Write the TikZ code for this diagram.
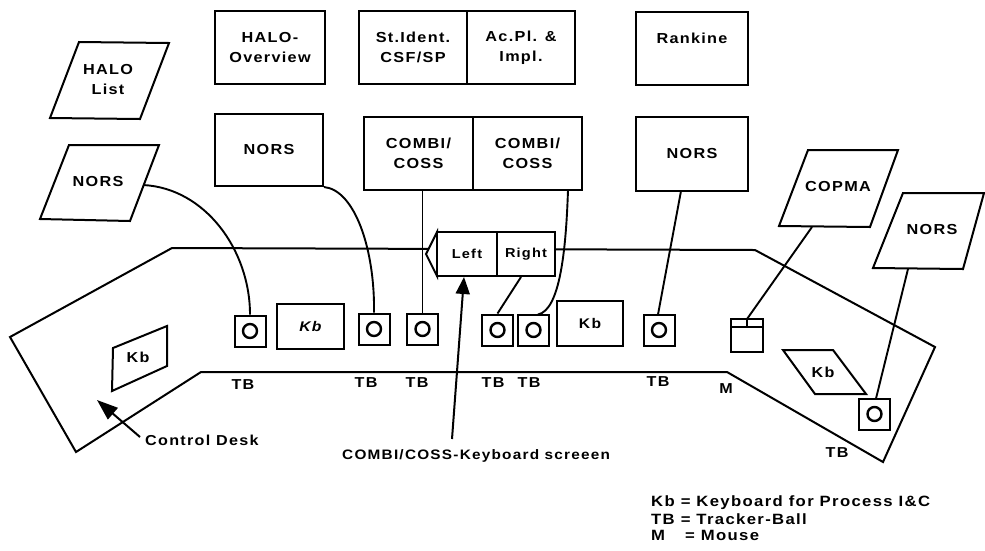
\documentclass[tikz,border=0pt]{standalone}
\usepackage{fontspec}
\setmainfont{Liberation Sans}[BoldFont={Liberation Sans Bold},LetterSpace=9,FakeStretch=1.12]
\usetikzlibrary{arrows.meta}
\tikzset{
  x=1pt,y=-1pt,
  ln/.style={line width=2pt,line join=miter},
  wire/.style={line width=1.9pt},
  boxn/.style={draw,line width=2pt,rectangle,inner sep=0pt,align=center,font=\fontsize{14.5}{20}\selectfont\bfseries},
  tball/.style={draw,line width=2pt,rectangle,inner sep=0pt,minimum width=31pt,minimum height=31pt,
    path picture={\draw[line width=2.4pt] (path picture bounding box.center) circle (7pt);}},
  lbl/.style={inner sep=0pt,align=center,font=\fontsize{14.5}{20}\selectfont\bfseries},
  small/.style={inner sep=0pt,font=\fontsize{14.4}{16}\selectfont\bfseries},
  ptr/.style={line width=2pt,-{Triangle[length=17pt,width=14pt]}},
  ptrb/.style={line width=2pt,-{Triangle[length=21pt,width=15pt]}}
}
\begin{document}
\begin{tikzpicture}
\useasboundingbox (0,0) rectangle (985,550);
% desk
\draw[ln] (10,337) -- (172,248) -- (755,250) -- (935,347) -- (883,462) -- (727,372) -- (201,372) -- (76,452) -- cycle;
% left parallelograms
\draw[ln] (79,42) -- (169,43) -- (140,119) -- (50,118) -- cycle;
\node[lbl] (halolist) at (108,80) {HALO\\List};
\draw[ln] (69,145) -- (159,145) -- (130,221) -- (40,219) -- cycle;
\node[lbl] (norsL) at (98,182) {NORS};
\coordinate (norsLout) at (143,185);
% top boxes
\node[boxn,minimum width=110pt,minimum height=73pt] (halo) at (270,47.5) {HALO-\\Overview};
\node[boxn,minimum width=108pt,minimum height=72pt] (norsA) at (269,150) {NORS};
\node[boxn,minimum width=108pt,minimum height=73pt] (stid) at (413,47.5) {St.Ident.\\CSF/SP};
\node[boxn,minimum width=108pt,minimum height=73pt] (acpl) at (521,47.5) {Ac.Pl. \&\\Impl.};
\node[boxn,minimum width=109pt,minimum height=73pt] (combiA) at (418.5,153.5) {COMBI/\\COSS};
\node[boxn,minimum width=109pt,minimum height=73pt] (combiB) at (527.5,153.5) {COMBI/\\COSS};
\node[boxn,minimum width=112pt,minimum height=73pt] (rank) at (692,48.5) {};
\node[lbl] (ranktxt) at (692,38) {Rankine};
\node[boxn,minimum width=112pt,minimum height=74pt] (norsB) at (692,154) {NORS};
% right parallelograms
\draw[ln] (808,150) -- (898,150) -- (870,227) -- (779,226) -- cycle;
\node[lbl] (copma) at (838,187) {COPMA};
\coordinate (copmaout) at (812,227);
\draw[ln,fill=white] (903,193) -- (984,193) -- (963,269) -- (873,268) -- cycle;
\node[lbl] (norsR) at (932,230) {NORS};
\coordinate (norsRout) at (908,269);
% screens
\draw[ln,fill=white] (437,232) -- (426,254) -- (437,276) -- cycle;
\node[boxn,fill=white,minimum width=60pt,minimum height=44pt,font=\fontsize{13}{14}\selectfont\bfseries] (left) at (467,254) {Left};
\node[boxn,fill=white,minimum width=58pt,minimum height=44pt,font=\fontsize{13}{14}\selectfont\bfseries] (right) at (526,254) {Right};
% trackballs
\node[tball] (t1) at (250,331) {};
\node[tball] (t2) at (374,329) {};
\node[tball] (t3) at (422.5,329) {};
\node[tball] (t4) at (497.5,330) {};
\node[tball] (t5) at (533.5,330) {};
\node[tball] (t6) at (659,330) {};
\node[tball] (t7) at (874.5,414) {};
% keyboards
\node[boxn,minimum width=67pt,minimum height=45pt,font=\fontsize{14}{16}\selectfont\bfseries\itshape] (kb1) at (310.5,326.5) {Kb};
\node[boxn,minimum width=66pt,minimum height=45pt,font=\fontsize{14}{16}\selectfont\bfseries] (kb2) at (590,323.5) {Kb};
\draw[ln] (113,348) -- (167,326) -- (167,366) -- (112,391) -- cycle;
\node[small] (kb3) at (138,357) {Kb};
\draw[ln] (783,350) -- (833,350) -- (866,394) -- (815,394) -- cycle;
\node[small] (kb4) at (823,372) {Kb};
% mouse
\node[draw,line width=2pt,inner sep=0pt,minimum width=32pt,minimum height=33pt] (mouse) at (747,335.5) {};
\coordinate (mtop) at (747,319);
\draw[ln] (731,327) -- (763,327);
\draw[ln] (747,319) -- (747,327);
% wires
\draw[wire] (norsLout) .. controls (205,188) and (250,250) .. (t1.north);
\draw[wire] (norsA.south east) .. controls (355,190) and (375,250) .. (t2.north);
\draw[wire] (t3.north) -- (422.5,190);
\draw[wire] (right.south -| 521,0) -- (t4.north);
\draw[wire] (568,190) .. controls (566,250) and (560,310) .. (538,314.5);
\draw[wire] (681,191) -- (658,314.5);
\draw[wire] (copmaout) -- (mtop);
\draw[wire] (norsRout) -- (876,398.5);
% pointer arrows
\coordinate (ctlfrom) at (140,437);
\coordinate (ctlto) at (97,400);
\coordinate (scrfrom) at (452,439);
\draw[ptrb] (ctlfrom) -- (ctlto);
\draw[ptr] (scrfrom) -- (464,277);
% labels
\node[small] (tbl1) at (243,385) {TB};
\node[small] (tbl2) at (366,383) {TB};
\node[small] (tbl3) at (417,383) {TB};
\node[small] (tbl4) at (493,383) {TB};
\node[small] (tbl5) at (529,383) {TB};
\node[small] (tbl6) at (658,382) {TB};
\node[small] (tbl7) at (726,389) {M};
\node[small] (tbl8) at (837,453) {TB};
\node[small,anchor=west] (ctl) at (145,440) {Control Desk};
\node[small,anchor=west,font=\fontsize{13.7}{16}\selectfont\bfseries] (scr) at (342,456) {COMBI/COSS-Keyboard screeen};
\node[small,anchor=west,font=\fontsize{14.9}{16}\selectfont\bfseries] (k1) at (651,503) {Kb = Keyboard for Process I\&C};
\node[small,anchor=west,font=\fontsize{14.9}{16}\selectfont\bfseries] (k2) at (651,519) {TB = Tracker-Ball};
\node[small,anchor=west,font=\fontsize{14.9}{16}\selectfont\bfseries] (k3) at (651,535) {M\hspace{20pt}= Mouse};
\end{tikzpicture}
\end{document}
